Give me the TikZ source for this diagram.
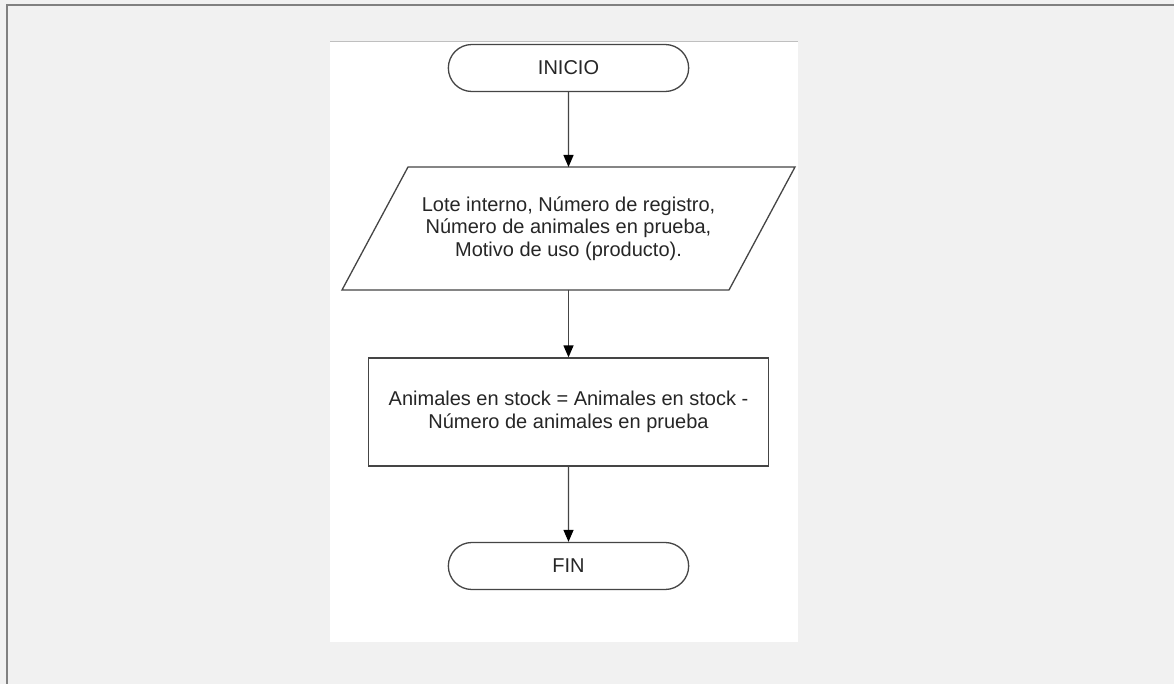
\documentclass[tikz,border=0pt]{standalone}
\usepackage{fontspec}
\setmainfont{Liberation Sans}
\usetikzlibrary{shapes.misc,arrows.meta}
\definecolor{canvas}{HTML}{F1F1F1}
\definecolor{frame}{HTML}{808080}
\definecolor{ink}{HTML}{454545}
\begin{document}
\begin{tikzpicture}[x=1pt,y=-1pt]
% Set styles for the flowchart shapes
\tikzstyle{Term}=[rounded rectangle,draw=ink,fill=white,line width=1.3pt,text=black!85,font=\fontsize{20}{22.5}\selectfont,align=center,minimum width=247pt,minimum height=47pt]
\tikzstyle{Data}=[rectangle,text=black!85,font=\fontsize{20}{22.5}\selectfont,align=center,minimum width=453pt,minimum height=123pt,inner sep=0pt,outer sep=0pt]
\tikzstyle{Proc}=[rectangle,draw=ink,fill=white,line width=1.3pt,text=black!85,font=\fontsize{20}{22.5}\selectfont,align=center,minimum width=400pt,minimum height=108pt]
\tikzstyle{flow}=[draw=ink,line width=1.3pt,-{Triangle[width=10pt,length=12pt,color=black]}]
% Background and page
\fill[canvas] (0,0) rectangle (1174,684);
\useasboundingbox (0,0) rectangle (1174,684);
\draw[frame,line width=2pt] (7,684) -- (7,5) -- (1174,5);
\fill[white] (330,42) rectangle (798,642);
\draw[black!25,line width=1pt] (330,42) -- (798,42);
% Nodes
\foreach \x/\y/\t/\n/\k in {
    568.5/68/INICIO/Term/ini,
    568.5/228.5/{Lote interno, Número de registro,\\Número de animales en prueba,\\Motivo de uso (producto).}/Data/dat,
    568.5/412/{Animales en stock = Animales en stock -\\Número de animales en prueba}/Proc/calc,
    568.5/566/FIN/Term/fin}
  \node[\n] (\k) at (\x,\y) {\t};
% Parallelogram outline for the data node
\draw[ink,line width=1.3pt,line join=miter] (dat.south west) -- ([xshift=-66pt]dat.south east)
  -- (dat.north east) -- ([xshift=66pt]dat.north west) -- cycle;
% Edges
\foreach \i/\j in {ini/dat, dat/calc, calc/fin}
  \draw[flow] (\i) -- (\j);
\end{tikzpicture}
\end{document}
